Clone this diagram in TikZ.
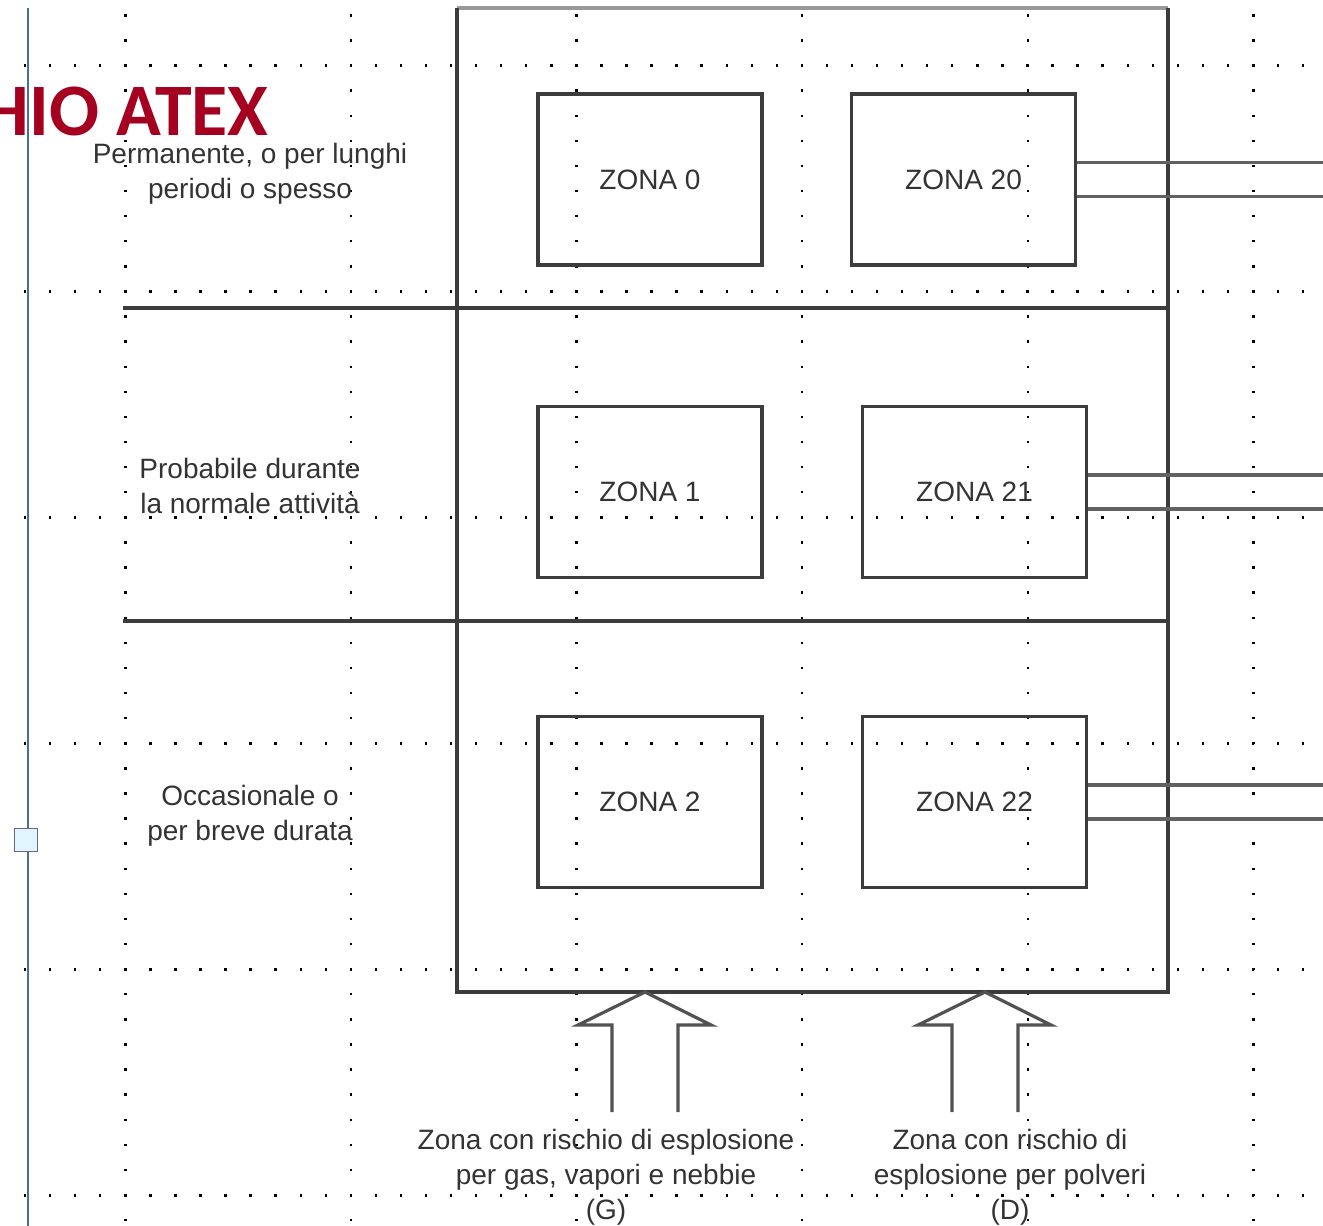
\documentclass[tikz,border=0pt]{standalone}
\usepackage{fontspec}
\setmainfont{Liberation Sans}
\newfontfamily\titlefont{Carlito}
\definecolor{atexred}{RGB}{166,0,33}
\definecolor{rulegray}{RGB}{60,60,60}
\definecolor{steelline}{RGB}{74,111,148}
\tikzset{
  zonebox/.style={draw=rulegray, line width=1.7pt, minimum width=112pt, minimum height=85.5pt,
    font=\fontsize{14}{17}\selectfont, text=black!80},
  note/.style={align=center, font=\fontsize{14}{17.5}\selectfont, text=black!80},
  frame/.style={draw=rulegray, line width=1.6pt},
  link/.style={draw=black!62, line width=1.7pt},
  griddot/.style={fill=black}
}
\newcommand{\blockarrow}[1]{\draw[frame,draw=black!68] (#1) ++(-33,120) -- ++(0,-87) -- ++(-34,0) -- (#1) -- ++(66,33) -- ++(-33,0) -- ++(0,87);}

\begin{document}
\begin{tikzpicture}[x=0.5pt,y=-0.5pt]
\useasboundingbox (0,0) rectangle (1323,1226);

\foreach \x in {125.3,350.9,576.5,802.1,1027.7,1253.3}
  \foreach \j in {0,...,48}
    \fill[griddot] (\x-1.2,15.3+25.1*\j-1.2) rectangle ++(2.4,2.4);
\foreach \y in {65.5,291.5,517.5,743.5,969.5,1195.5}
  \foreach \i in {1,...,52}
    \fill[griddot] (25.06*\i-1.2,\y-1.2) rectangle ++(2.4,2.4);

\draw[steelline, line width=1.2pt] (28,8) -- (28,1226);
\node[draw=gray!80!blue, fill=cyan!12, minimum size=11.5pt, inner sep=0pt, line width=0.8pt] (handle) at (26,840) {};

\node[anchor=base east, inner sep=0pt, text=atexred, font=\titlefont\bfseries\fontsize{37}{40}\selectfont] (title) at (269,135) {HIO ATEX};

\draw[draw=black!40, line width=1.6pt] (457,8) -- (1168,8);
\draw[frame] (457,8) -- (457,992) -- (1168,992) -- (1168,8);
\draw[frame] (123,308) -- (1168,308);
\draw[frame] (123,621) -- (1168,621);

\node[zonebox] (z0) at (650,179.5) {ZONA 0};
\node[zonebox] (z20) at (963.5,179.5) {ZONA 20};
\node[zonebox] (z1) at (650,492) {ZONA 1};
\node[zonebox] (z21) at (974.5,492) {ZONA 21};
\node[zonebox] (z2) at (650,802) {ZONA 2};
\node[zonebox] (z22) at (974.5,802) {ZONA 22};

\foreach \z in {z20,z21,z22}{
  \draw[link] ([yshift=8.5pt]\z.east) -- ++(260,0);
  \draw[link] ([yshift=-8.5pt]\z.east) -- ++(260,0);
}

\node[note] (freq0) at (250,174) {Permanente, o per lunghi\\periodi o spesso};
\node[note] (freq1) at (250,486) {Probabile durante\\la normale attività};
\node[note] (freq2) at (250,816) {Occasionale o\\per breve durata};

\coordinate (gtip) at (645,992);
\coordinate (dtip) at (985,992);
\blockarrow{gtip}
\blockarrow{dtip}

\node[note] (gas) at (606,1177) {Zona con rischio di esplosione\\per gas, vapori e nebbie\\(G)};
\node[note] (dust) at (1010,1177) {Zona con rischio di\\esplosione per polveri\\(D)};
\end{tikzpicture}
\end{document}
